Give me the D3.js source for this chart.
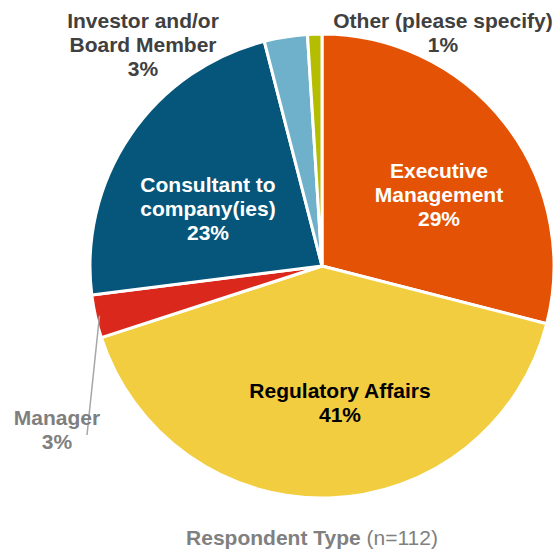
<!DOCTYPE html>
<html>
<head>
<meta charset="utf-8">
<script src="https://cdn.jsdelivr.net/npm/d3@7"></script>
<style>
  body { margin: 0; background: #fff; }
  text { font-family: "Liberation Sans", Arial, sans-serif; font-weight: bold; }
</style>
</head>
<body>
<script>
const categories = ["Executive Management", "Regulatory Affairs", "Manager",
  "Consultant to company(ies)", "Investor and/or Board Member", "Other (please specify)"];
const values = [29, 41, 3, 23, 3, 1];
const colors = ["#e35205", "#f2cd3f", "#da291c", "#05567a", "#6fb1cb", "#b5bd00"];

// label lines and where they sit
const labelLines = [
  ["Executive", "Management", "29%"],
  ["Regulatory Affairs", "41%"],
  ["Manager", "3%"],
  ["Consultant to", "company(ies)", "23%"],
  ["Investor and/or", "Board Member", "3%"],
  ["Other (please specify)", "1%"]
];
const labelPos = [[439, 178], [340, 398], [57, 425], [208, 192], [143, 28], [443, 28]];
const labelColor = ["#fff", "#000", "#7f7f7f", "#fff", "#404040", "#404040"];

const width = 559, height = 559;
const cx = 322, cy = 266, r = 232;

const svg = d3.select("body").append("svg")
  .attr("width", width)
  .attr("height", height);

const pie = d3.pie().sort(null).value(d => d);
const arcs = pie(values);
const arc = d3.arc().innerRadius(0).outerRadius(r);

const g = svg.append("g").attr("transform", "translate(" + cx + "," + cy + ")");

g.selectAll("path")
  .data(arcs)
  .join("path")
  .attr("d", arc)
  .attr("fill", (d, i) => colors[i])
  .attr("stroke", "#fff")
  .attr("stroke-width", 3)
  .attr("stroke-linejoin", "round");

// leader line for Manager
const m = arcs[2];
const mid = (m.startAngle + m.endAngle) / 2;
g.append("line")
  .attr("x1", Math.sin(mid) * (r - 4))
  .attr("y1", -Math.cos(mid) * (r - 4))
  .attr("x2", 87 - cx)
  .attr("y2", 435 - cy)
  .attr("stroke", "#a6a6a6")
  .attr("stroke-width", 1.5);

labelLines.forEach((lines, i) => {
  const t = svg.append("text")
    .attr("text-anchor", "middle")
    .attr("font-size", 21)
    .attr("fill", labelColor[i]);
  lines.forEach((s, j) => {
    t.append("tspan")
      .attr("x", labelPos[i][0])
      .attr("y", labelPos[i][1] + j * 24)
      .text(s);
  });
});

const title = svg.append("text")
  .attr("x", 312)
  .attr("y", 545)
  .attr("text-anchor", "middle")
  .attr("font-size", 21)
  .attr("fill", "#808080");
title.append("tspan").text("Respondent Type");
title.append("tspan").attr("font-weight", "normal").text(" (n=112)");
</script>
</body>
</html>
